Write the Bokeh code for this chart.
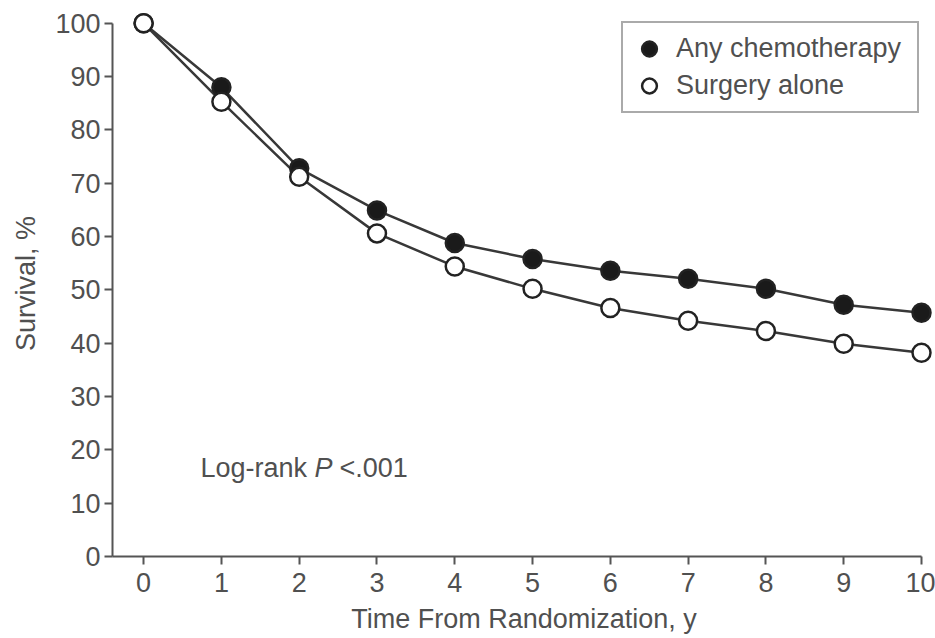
from bokeh.plotting import figure
from bokeh.models import Range1d, Legend, LegendItem, Label, FixedTicker
from bokeh.embed import file_html
from bokeh.resources import INLINE

years = list(range(11))
chemo = [100, 88.0, 72.8, 64.9, 58.8, 55.8, 53.6, 52.1, 50.2, 47.2, 45.7]
surgery = [100, 85.3, 71.2, 60.6, 54.4, 50.2, 46.6, 44.2, 42.3, 39.9, 38.2]
x_ticks = list(range(11))
y_ticks = list(range(0, 101, 10))
series_names = ["Any chemotherapy", "Surgery alone"]
annotation = ["Log-rank", "P", "<.001"]

FONT = "Liberation Sans"
FS = "27px"
TXT = "#505050"
AX = "#555555"
LN = "#383838"

p = figure(width=935, height=638, x_range=Range1d(-0.40, 10.18), y_range=Range1d(0, 102.4),
           output_backend="svg", toolbar_location=None,
           min_border_left=112, min_border_right=0, min_border_top=10, min_border_bottom=82)
p.outline_line_color = None
p.grid.visible = False
p.background_fill_color = "white"

for ax in (p.xaxis, p.yaxis):
    ax.axis_line_width = 2
    ax.axis_line_color = AX
    ax.major_tick_line_width = 2
    ax.major_tick_line_color = AX
    ax.major_tick_out = 8
    ax.major_tick_in = 0
    ax.minor_tick_line_color = None
    ax.major_label_text_font = FONT
    ax.major_label_text_font_size = FS
    ax.major_label_text_color = TXT
    ax.axis_label_text_font = FONT
    ax.axis_label_text_font_size = FS
    ax.axis_label_text_color = TXT
    ax.axis_label_text_font_style = "normal"

p.xaxis.ticker = FixedTicker(ticks=x_ticks)
p.yaxis.ticker = FixedTicker(ticks=y_ticks)
p.xaxis.bounds = (-0.40, 10)
p.yaxis.bounds = (0, 100)
p.xaxis.major_label_standoff = 8
p.yaxis.major_label_standoff = 4
p.xaxis.axis_label_standoff = 9
p.yaxis.axis_label_standoff = 11
p.xaxis.axis_label = "Time From Randomization, y"
p.yaxis.axis_label = "Survival, %"

p.line(years, chemo, line_color=LN, line_width=2.5)
p.line(years, surgery, line_color=LN, line_width=2.5)
r1 = p.scatter(years, chemo, size=18, marker="circle", fill_color="#1a1a1a", line_color="#222222", line_width=2.5)
r2 = p.scatter(years, surgery, size=18, marker="circle", fill_color="white", line_color="#222222", line_width=2.5)

legend = Legend(items=[LegendItem(label=series_names[0], renderers=[r1]),
                       LegendItem(label=series_names[1], renderers=[r2])],
                location=(509, 443), padding=7, spacing=0, margin=0,
                glyph_width=38, glyph_height=37, label_standoff=8, label_width=234, label_height=37,
                label_text_font=FONT, label_text_font_size=FS, label_text_color=TXT,
                border_line_color=AX, border_line_width=2, background_fill_color="white",
                background_fill_alpha=1)
p.add_layout(legend)

common = dict(x=0.73, y=16.6, text_baseline="middle", text_font=FONT, text_font_size=FS, text_color=TXT)
p.add_layout(Label(text=annotation[0], **common))
p.add_layout(Label(text=annotation[1], x_offset=114, text_font_style="italic", **common))
p.add_layout(Label(text=annotation[2], x_offset=139, **common))

open("out.html", "w").write(file_html(p, INLINE))
